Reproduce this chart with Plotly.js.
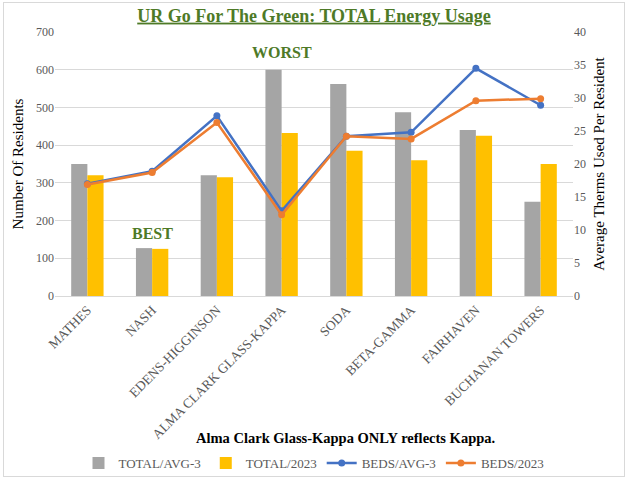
<!DOCTYPE html>
<html><head><meta charset="utf-8">
<script src="https://cdn.plot.ly/plotly-3.0.1.min.js"></script>
<style>html,body{margin:0;padding:0;background:#fff;}#frame{position:absolute;left:3px;top:2px;width:620px;height:473px;border:1px solid #d9d9d9;}#chart{position:absolute;left:0;top:0;width:628px;height:479px;}</style>
</head><body><div id="frame"></div><div id="chart"></div>
<script>
const categories = ["MATHES","NASH","EDENS-HIGGINSON","ALMA CLARK GLASS-KAPPA","SODA","BETA-GAMMA","FAIRHAVEN","BUCHANAN TOWERS"];
const totalAvg3 = [350,127,320,600,562,487,440,250];
const total2023 = [320,125,315,432,385,360,425,350];
const bedsAvg3 = [17.0,18.9,27.3,12.9,24.2,24.8,34.5,28.9];
const beds2023 = [16.9,18.7,26.3,12.3,24.2,23.8,29.6,29.9];

const serif = "Liberation Serif";
const data = [
  {type:"bar", name:"TOTAL/AVG-3", x:categories, y:totalAvg3, marker:{color:"#a5a5a5"}, yaxis:"y"},
  {type:"bar", name:"TOTAL/2023", x:categories, y:total2023, marker:{color:"#ffc000"}, yaxis:"y"},
  {type:"scatter", mode:"lines+markers", name:"BEDS/AVG-3", x:categories, y:bedsAvg3, yaxis:"y2",
   line:{color:"#4472c4", width:2.5}, marker:{color:"#4472c4", size:7}},
  {type:"scatter", mode:"lines+markers", name:"BEDS/2023", x:categories, y:beds2023, yaxis:"y2",
   line:{color:"#ed7d31", width:2.5}, marker:{color:"#ed7d31", size:7}}
];
const layout = {
  width:628, height:479,
  margin:{l:55, r:55, t:32, b:183, autoexpand:false},
  paper_bgcolor:"rgba(0,0,0,0)", plot_bgcolor:"rgba(0,0,0,0)",
  font:{family:serif, color:"#595959", size:12},
  title:{text:"<b><u>UR Go For The Green: TOTAL Energy Usage</u></b>", font:{family:serif, size:18, color:"#4e7a27"}, x:0.5, xanchor:"center", y:0.968, yanchor:"middle"},
  barmode:"group", bargap:0.5, bargroupgap:0,
  xaxis:{tickangle:-45, automargin:false, tickfont:{family:serif, size:13.5, color:"#595959"}, showline:true, linecolor:"#d9d9d9", ticks:""},
  yaxis:{range:[0,700], dtick:100, automargin:false, gridcolor:"#d9d9d9", zeroline:false, tickfont:{family:serif, size:12, color:"#595959"},
         title:{text:"Number Of Residents", font:{family:serif, size:15, color:"#000"}, standoff:8}},
  yaxis2:{range:[0,40], dtick:5, automargin:false, overlaying:"y", side:"right", showgrid:false, zeroline:false,
          tickfont:{family:serif, size:12, color:"#595959"},
          title:{text:"Average Therms Used Per Resident", font:{family:serif, size:15, color:"#000"}, standoff:8}},
  legend:{orientation:"h", x:0.5, xanchor:"center", y:-0.633, yanchor:"middle",
          font:{family:serif, size:13, color:"#595959"}, traceorder:"normal"},
  annotations:[
    {text:"<b>WORST</b>", x:3, xref:"x", y:645, yref:"y", showarrow:false, font:{family:serif, size:16, color:"#4e7a27"}},
    {text:"<b>BEST</b>", x:1, xref:"x", y:165, yref:"y", showarrow:false, font:{family:serif, size:16, color:"#4e7a27"}},
    {text:"<b>Alma Clark Glass-Kappa ONLY reflects Kappa.</b>", x:536/628, xref:"paper", xanchor:"right", y:-0.538, yref:"paper", yanchor:"middle", showarrow:false, font:{family:serif, size:14.5, color:"#000"}}
  ]
};
Plotly.newPlot("chart", data, layout, {displayModeBar:false, staticPlot:true});
</script></body></html>
